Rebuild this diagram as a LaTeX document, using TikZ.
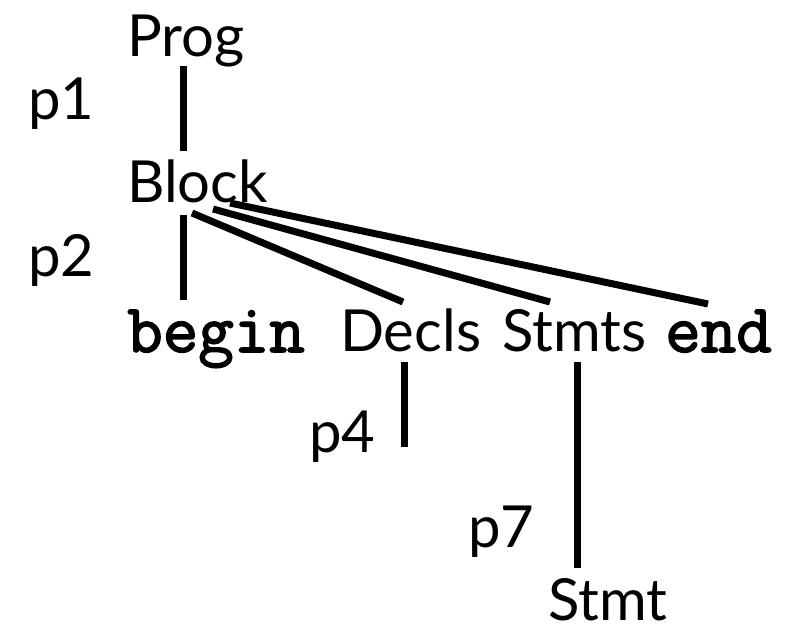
\documentclass[tikz,border=0pt]{standalone}
\usepackage{fontspec}
\setmainfont{Lato}
\newfontfamily\codefont[FakeBold=2.2]{Latin Modern Mono}
\usetikzlibrary{calc}
\tikzset{
  lbl/.style={anchor=base west, inner sep=0pt, font=\fontsize{58}{60}\selectfont},
  kw/.style={anchor=base west, inner sep=0pt, font=\codefont\fontsize{69}{70}\selectfont},
  edge/.style={line width=7pt, black}
}
\begin{document}
\begin{tikzpicture}[x=1pt,y=1pt]
\useasboundingbox (0,0) rectangle (793,631);
\node[lbl] (Prog) at (127,574) {Prog};
\node[lbl] (Block) at (127,428) {Block};
\node[kw] (begin) at (127,279) {begin};
\node[lbl] (Decls) at (340,279) {Decls};
\node[lbl] (Stmts) at (502,279) {Stmts};
\node[kw] (end) at (665,279) {end};
\node[lbl] (Stmt) at (548,10) {Stmt};
\node[lbl] (p1) at (28,511) {p1};
\node[lbl] (p2) at (28,354) {p2};
\node[lbl] (p4) at (309,178) {p4};
\node[lbl] (p7) at (468,83) {p7};
\coordinate (d4) at ($(Decls.base west)+(64,-95)$);
\draw[edge] ($(Prog.base west)+(56,-9)$) -- ($(Block.base west)+(56,52)$);
\draw[edge] ($(Block.base west)+(56,-12)$) -- ($(begin.base west)+(56,52)$);
\draw[edge] ($(Block.base west)+(65,-10)$) -- ($(Decls.base west)+(63,50)$);
\draw[edge] ($(Block.base west)+(86,-6)$) -- ($(Stmts.base west)+(48,50)$);
\draw[edge] ($(Block.base west)+(103,0)$) -- ($(end.base west)+(43,48)$);
\draw[edge] ($(Decls.base west)+(64,-10)$) -- (d4);
\draw[edge] ($(Stmts.base west)+(75,-10)$) -- ($(Stmt.base west)+(29,53)$);
\end{tikzpicture}
\end{document}
